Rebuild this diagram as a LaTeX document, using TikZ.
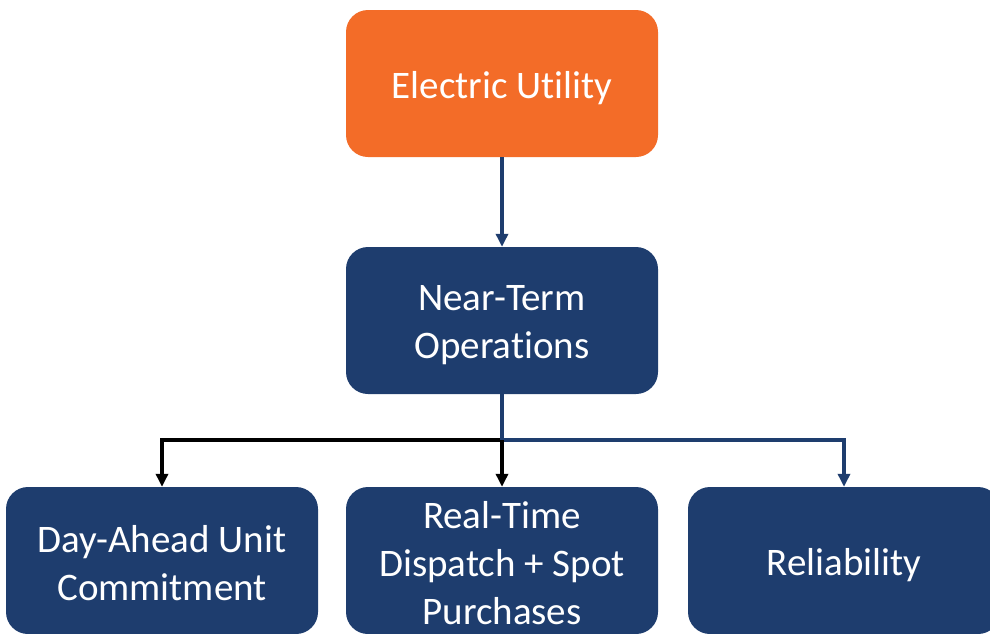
\documentclass[tikz,border=0pt]{standalone}
\usepackage{fontspec}
\setmainfont[Ligatures={NoCommon}]{Carlito}
\usetikzlibrary{arrows.meta}
\definecolor{euorange}{HTML}{F36C28}
\definecolor{eublue}{HTML}{1E3D6E}
\begin{document}
\begin{tikzpicture}[x=1pt,y=-1pt,
  box/.style={rectangle, rounded corners=22pt, minimum width=312pt, minimum height=147pt,
    inner sep=0pt},
  bluebox/.style={box, fill=eublue},
  orangebox/.style={box, fill=euorange},
  boxtext/.style={text=white, align=center, inner sep=0pt, font=\fontsize{39pt}{48pt}\selectfont},
  blueline/.style={draw=eublue, line width=3.5pt},
  blackline/.style={draw=black, line width=3.8pt},
  tip/.style={-{Triangle[width=12pt,length=13pt]}}]
\useasboundingbox (0,0) rectangle (990,633);
\clip (0,0) rectangle (990,633);
\node[orangebox] (eu) at (502,83.5) {};
\node[bluebox] (nto) at (502,320.5) {};
\node[bluebox] (da) at (162,560.5) {};
\node[bluebox] (rt) at (502,560.5) {};
\node[bluebox] (rel) at (844,560.5) {};
\node[boxtext] (eut) at ([yshift=-4.5pt]eu.center) {Electric Utility};
\node[boxtext] (ntot) at ([yshift=-4.5pt]nto.center) {Near-Term\\Operations};
\node[boxtext] (dat) at ([yshift=-3pt]da.center) {Day-Ahead Unit\\Commitment};
\node[boxtext] (rtt) at ([yshift=-3pt]rt.center) {Real-Time\\Dispatch + Spot\\Purchases};
\node[boxtext] (relt) at ([yshift=-4.5pt]rel.center) {Reliability};
\coordinate (j) at (502,440);
\draw[blueline, tip] (eu.south) -- (nto.north);
\draw[blueline, tip] (j) -| (rel.north);
\draw[blackline, tip] (j) -| (da.north);
\draw[blackline, tip] (j) -- (rt.north);
\draw[blueline] (nto.south) -- (j);
\end{tikzpicture}
\end{document}
